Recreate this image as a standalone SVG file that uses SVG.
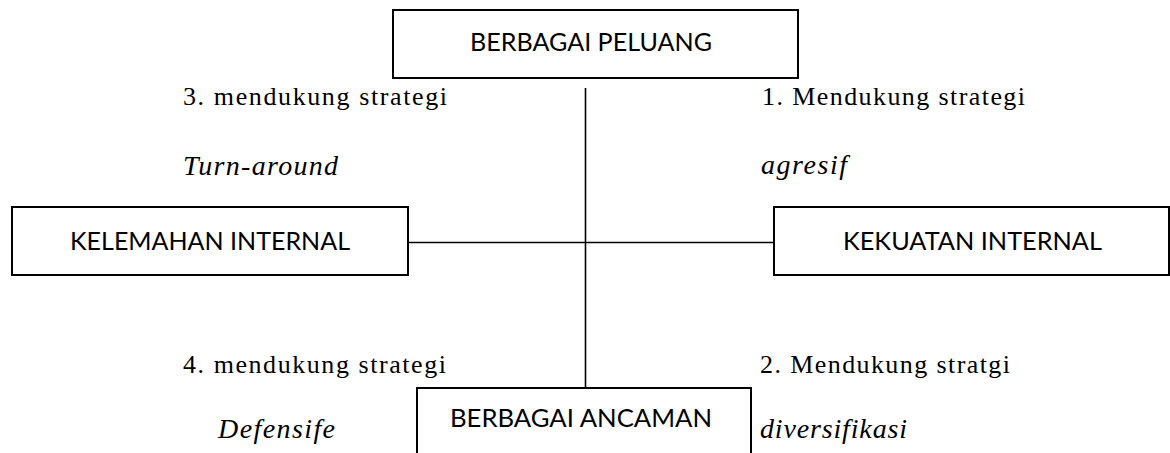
<svg xmlns="http://www.w3.org/2000/svg" width="1170" height="453" viewBox="0 0 1170 453">
<style>
.box{fill:#fff;stroke:#000;stroke-width:2}
.bt{font-family:Lato,"Open Sans","Liberation Sans",sans-serif;font-size:25px;fill:#000;text-anchor:start}
.lb{font-family:"Liberation Serif","Times New Roman",serif;font-size:26px;fill:#000}
.it{font-family:"Liberation Serif","Times New Roman",serif;font-size:28px;font-style:italic;fill:#000}
.ln{stroke:#000;stroke-width:1.6;fill:none}
</style>
<rect width="1170" height="453" fill="#fff"/>
<g id="connectors">
<line class="ln" x1="585.5" y1="88" x2="585.5" y2="388"/>
<line class="ln" x1="408" y1="242.5" x2="774" y2="242.5"/>
</g>
<g id="peluang">
<rect class="box" x="393" y="10" width="405" height="68"/>
<text class="bt" x="470" y="51" textLength="242" lengthAdjust="spacingAndGlyphs">BERBAGAI PELUANG</text>
</g>
<g id="kelemahan">
<rect class="box" x="12" y="207" width="396" height="68"/>
<text class="bt" x="70" y="250" textLength="280" lengthAdjust="spacingAndGlyphs">KELEMAHAN INTERNAL</text>
</g>
<g id="kekuatan">
<rect class="box" x="774" y="207" width="395" height="68"/>
<text class="bt" x="843" y="250" textLength="259" lengthAdjust="spacingAndGlyphs">KEKUATAN INTERNAL</text>
</g>
<g id="ancaman">
<rect class="box" x="417" y="388" width="334" height="80"/>
<text class="bt" x="450" y="427" textLength="262" lengthAdjust="spacingAndGlyphs">BERBAGAI ANCAMAN</text>
</g>
<g id="labels">
<text class="lb" x="183" y="105" textLength="264" lengthAdjust="spacing">3. mendukung strategi</text>
<text class="it" x="183" y="175" textLength="155" lengthAdjust="spacing">Turn-around</text>
<text class="lb" x="762" y="105" textLength="263" lengthAdjust="spacing">1. Mendukung strategi</text>
<text class="it" x="761" y="174" textLength="86" lengthAdjust="spacing">agresif</text>
<text class="lb" x="183" y="373" textLength="263" lengthAdjust="spacing">4. mendukung strategi</text>
<text class="it" x="218" y="438" textLength="117" lengthAdjust="spacing">Defensife</text>
<text class="lb" x="760" y="373" textLength="250" lengthAdjust="spacing">2. Mendukung stratgi</text>
<text class="it" x="760" y="438" textLength="147" lengthAdjust="spacing">diversifikasi</text>
</g>
</svg>
